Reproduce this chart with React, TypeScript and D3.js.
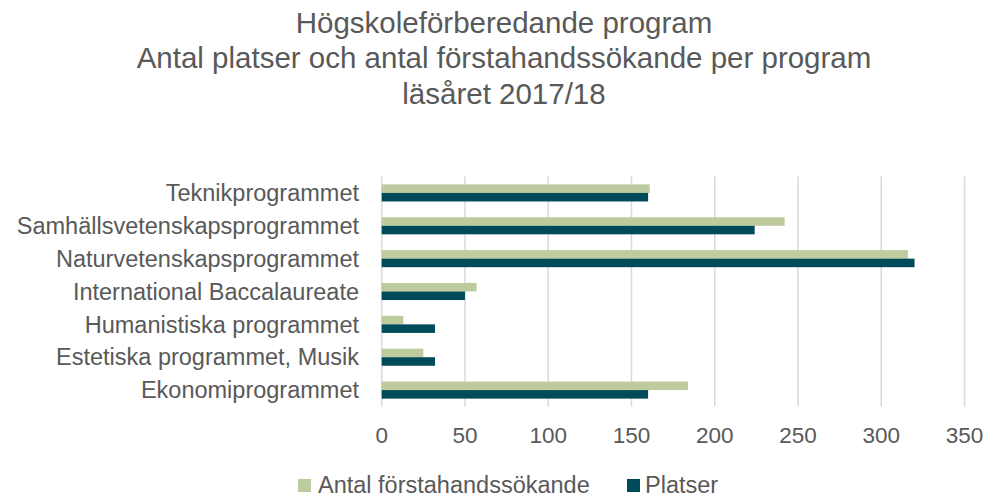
import React from "react";
import * as d3 from "d3";

const categories = [
  "Teknikprogrammet",
  "Samhällsvetenskapsprogrammet",
  "Naturvetenskapsprogrammet",
  "International Baccalaureate",
  "Humanistiska programmet",
  "Estetiska programmet, Musik",
  "Ekonomiprogrammet",
];
const sokande = [161, 242, 316, 57, 13, 25, 184];
const platser = [160, 224, 320, 50, 32, 32, 160];
const xTicks = [0, 50, 100, 150, 200, 250, 300, 350];
const seriesNames = ["Antal förstahandssökande", "Platser"];
const titleLines = [
  "Högskoleförberedande program",
  "Antal platser och antal förstahandssökande per program",
  "läsåret 2017/18",
];

const GREEN = "#BDCB9F";
const DARK = "#004B5A";
const TEXT = "#595959";
const FONT = "'Liberation Sans', Arial, sans-serif";

export default function App() {
  const W = 987;
  const H = 496;
  const left = 381.7;
  const right = 964.5;
  const top = 176.5;
  const bottom = 406.5;

  const x = d3.scaleLinear().domain([0, 350]).range([left, right]);
  const y = d3.scaleBand<string>().domain(categories).range([top, bottom]).paddingInner(0.48).paddingOuter(0.24);
  const sub = d3.scaleBand<string>().domain(seriesNames).range([0, y.bandwidth()]);

  return (
    <svg width={W} height={H} style={{ position: "absolute", left: 0, top: 0, fontFamily: FONT }}>
      <rect x={0} y={0} width={W} height={H} fill="#fff" />
      {titleLines.map((t, i) => (
        <text key={i} x={504} y={32.5 + i * 35.5} textAnchor="middle" fontSize={29.5} fill={TEXT}>
          {t}
        </text>
      ))}
      {xTicks.map((t) => (
        <g key={t}>
          <line x1={x(t)} x2={x(t)} y1={top} y2={bottom} stroke="#D9D9D9" strokeWidth={1.5} />
          <text x={x(t)} y={443} textAnchor="middle" fontSize={22.5} fill={TEXT}>
            {t}
          </text>
        </g>
      ))}
      {categories.map((c, i) => (
        <g key={c}>
          <rect
            x={x(0)}
            y={(y(c) as number) + (sub(seriesNames[0]) as number)}
            width={x(sokande[i]) - x(0)}
            height={sub.bandwidth()}
            fill={GREEN}
          />
          <rect
            x={x(0)}
            y={(y(c) as number) + (sub(seriesNames[1]) as number)}
            width={x(platser[i]) - x(0)}
            height={sub.bandwidth()}
            fill={DARK}
          />
          <text
            x={359}
            y={(y(c) as number) + y.bandwidth() / 2}
            dy="0.35em"
            textAnchor="end"
            fontSize={23.5}
            fill={TEXT}
          >
            {c}
          </text>
        </g>
      ))}
      <g>
        <rect x={298} y={479} width={13} height={13} fill={GREEN} />
        <text x={318} y={492.5} fontSize={23.5} fill={TEXT}>
          {seriesNames[0]}
        </text>
        <rect x={627} y={479} width={13} height={13} fill={DARK} />
        <text x={645} y={492.5} fontSize={23.5} fill={TEXT}>
          {seriesNames[1]}
        </text>
      </g>
    </svg>
  );
}
